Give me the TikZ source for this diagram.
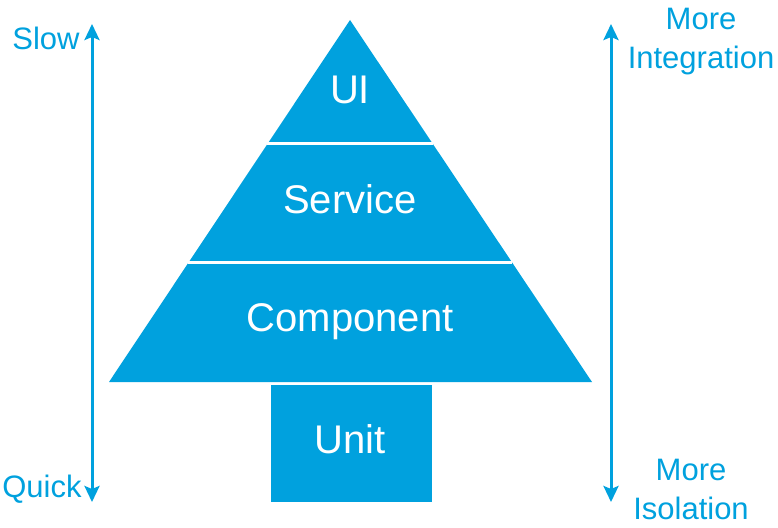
\documentclass[tikz,border=0pt]{standalone}
\usepackage{fontspec}
\setmainfont{Liberation Sans}
\usepackage{tikz}
\usetikzlibrary{arrows.meta}

\definecolor{pyrblue}{RGB}{0,161,222}

\tikzset{
  layer/.style={text=white, font=\fontsize{40}{48}\selectfont},
  side/.style={text=pyrblue, font=\fontsize{31}{38}\selectfont, align=center},
  scale arrow/.style={pyrblue, line width=3pt,
    {Stealth[length=16pt,width=15pt,inset=3pt]}-{Stealth[length=16pt,width=15pt,inset=3pt]}}
}

\begin{document}
\begin{tikzpicture}[x=1pt,y=-1pt]
\useasboundingbox (0,0) rectangle (778,527);

% pyramid
\fill[pyrblue] (350,20) -- (592,382) -- (109,382) -- cycle ;
\draw[white, line width=3pt] (267,143) -- (433,143) ;
\draw[white, line width=3pt] (188,262) -- (512,262) ;
\fill[pyrblue] (271,385) rectangle (432,502) ;

\node[layer] (ui) at (350,90) {UI} ;
\node[layer] (service) at (350,199) {Service} ;
\node[layer] (component) at (350,322) {Component} ;
\node[layer] (unit) at (350,439) {Unit} ;

% speed scale
\coordinate (speedtop) at (92,24) ;
\coordinate (speedbot) at (92,502) ;
\draw[scale arrow] (speedtop) -- (speedbot) ;
\node[side] (slow) at (46,38) {Slow} ;
\node[side] (quick) at (42,489) {Quick} ;

% scope scale
\coordinate (scopetop) at (611,24) ;
\coordinate (scopebot) at (611,502) ;
\draw[scale arrow] (scopetop) -- (scopebot) ;
\node[side] (integration) at (701,42) {More\\[1pt]Integration} ;
\node[side] (isolation) at (691,489) {More\\[1pt]Isolation} ;

\end{tikzpicture}
\end{document}
